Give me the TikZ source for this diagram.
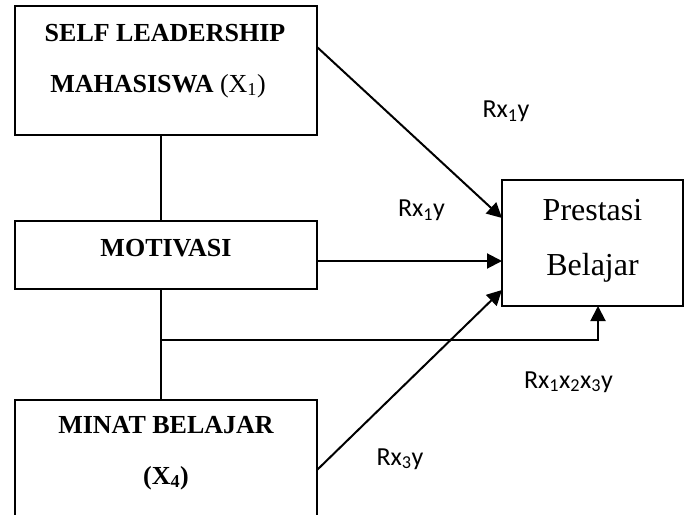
\documentclass[tikz,border=0pt]{standalone}
\usepackage{fontspec}
\setmainfont{Liberation Serif}
\newfontfamily\calib{Carlito}
\usetikzlibrary{arrows.meta}
\begin{document}
\begin{tikzpicture}[x=1pt,y=-1pt,line width=2pt,
  box/.style={draw,inner sep=0pt,outer sep=0pt},
  bt/.style={anchor=base,inner sep=0pt,font=\fontsize{26}{30}\selectfont\bfseries},
  pt/.style={anchor=base,inner sep=0pt,font=\fontsize{32}{36}\selectfont},
  lbl/.style={anchor=base,inner sep=0pt,font=\calib\fontsize{26}{30}\selectfont},
  arr/.style={-{Triangle[length=15pt,width=15pt]}}]
\path[use as bounding box,clip] (0,0) rectangle (690,514);
% boxes
\node[box,minimum width=302pt,minimum height=129pt] (b1) at (166,70.5) {};
\node[box,minimum width=302pt,minimum height=68pt] (b2) at (166,255) {};
\node[box,minimum width=302pt,minimum height=140pt] (b3) at (166,470) {};
\node[box,minimum width=181pt,minimum height=126pt] (p) at (592.5,243) {};
% texts
\node[bt] (t1a) at (165,41) {SELF LEADERSHIP};
\node[bt] (t1b) at (158,92) {MAHASISWA \mdseries(X\textsubscript{1})};
\node[bt] (t2) at (166,256) {MOTIVASI};
\node[bt] (t3a) at (166,433) {MINAT BELAJAR};
\node[bt] (t3b) at (166,484) {(X\textsubscript{4})};
\node[pt] (pa) at (592.5,220) {Prestasi};
\node[pt] (pb) at (592.5,275) {Belajar};
% labels
\node[lbl] (l1) at (506,117.5) {Rx\textsubscript{1}y};
\node[lbl] (l2) at (421.5,216.5) {Rx\textsubscript{1}y};
\node[lbl] (l3) at (568.5,388) {Rx\textsubscript{1}x\textsubscript{2}x\textsubscript{3}y};
\node[lbl] (l4) at (400,465) {Rx\textsubscript{3}y};
% connectors
\draw ([xshift=-5pt]b1.south) -- ([xshift=-5pt]b2.north);
\draw ([xshift=-5pt]b2.south) -- ([xshift=-5pt]b3.north);
\coordinate (j) at ([xshift=-5pt,yshift=-51pt]b2.south);
\draw[arr] ([yshift=23.5pt]b1.east) -- ([yshift=25pt]p.west);
\draw[arr] ([yshift=-6pt]b2.east) -- ([yshift=-18pt]p.west);
\draw[arr] (b3.east) -- ([yshift=-47pt]p.west);
\draw[arr] (j) -| ([xshift=5.5pt]p.south);
\end{tikzpicture}
\end{document}
